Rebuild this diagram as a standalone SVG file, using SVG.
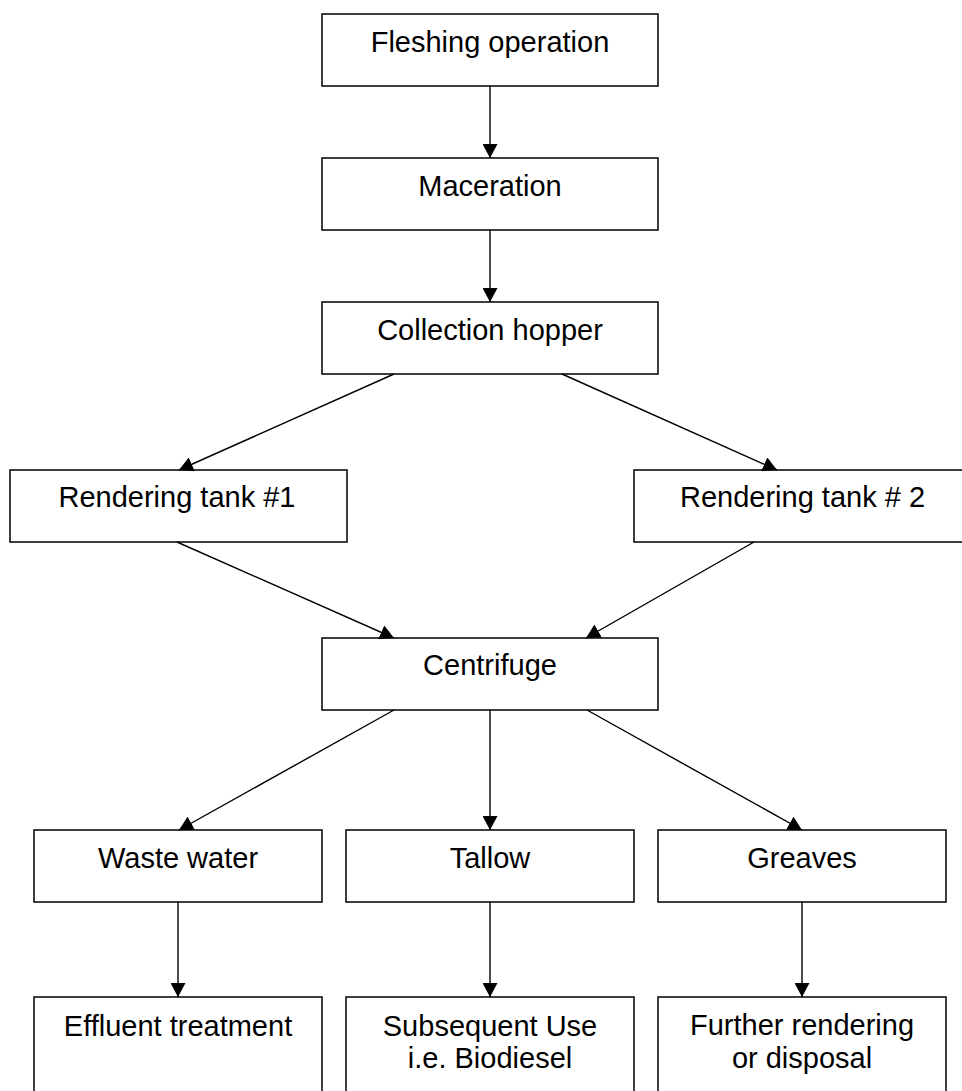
<svg xmlns="http://www.w3.org/2000/svg" width="962" height="1091" viewBox="0 0 962 1091">
<style>
.box{fill:#fff;stroke:#000;stroke-width:1.5}
.lbl{font-family:"Liberation Sans",Arial,sans-serif;font-size:29px;fill:#000;text-anchor:middle}
.con{fill:none;stroke:#000;stroke-width:1.4;marker-end:url(#ah)}
</style>
<defs>
<marker id="ah" markerUnits="userSpaceOnUse" markerWidth="14" markerHeight="15" refX="14" refY="7.5" orient="auto">
<path d="M0,0 L14,7.5 L0,15 z" fill="#000"/>
</marker>
</defs>
<rect width="962" height="1091" fill="#fff"/>
<g id="n-fleshing"><rect class="box" x="322" y="14" width="336" height="72"/><text class="lbl" x="490" y="52">Fleshing operation</text></g>
<g id="n-maceration"><rect class="box" x="322" y="158" width="336" height="72"/><text class="lbl" x="490" y="196">Maceration</text></g>
<g id="n-collection"><rect class="box" x="322" y="302" width="336" height="72"/><text class="lbl" x="490" y="340">Collection hopper</text></g>
<g id="n-rt1"><rect class="box" x="10" y="470" width="337" height="72"/><text class="lbl" x="177" y="507">Rendering tank #1</text></g>
<g id="n-rt2"><rect class="box" x="634" y="470" width="337" height="72"/><text class="lbl" x="802.5" y="507">Rendering tank # 2</text></g>
<g id="n-centrifuge"><rect class="box" x="322" y="638" width="336" height="72"/><text class="lbl" x="490" y="675">Centrifuge</text></g>
<g id="n-waste"><rect class="box" x="34" y="830" width="288" height="72"/><text class="lbl" x="178" y="868">Waste water</text></g>
<g id="n-tallow"><rect class="box" x="346" y="830" width="288" height="72"/><text class="lbl" x="490" y="868">Tallow</text></g>
<g id="n-greaves"><rect class="box" x="658" y="830" width="288" height="72"/><text class="lbl" x="802" y="868">Greaves</text></g>
<g id="n-effluent"><rect class="box" x="34" y="997" width="288" height="110"/><text class="lbl" x="178" y="1036">Effluent treatment</text></g>
<g id="n-subsequent"><rect class="box" x="346" y="997" width="288" height="110"/><text class="lbl" x="490" y="1036">Subsequent Use</text><text class="lbl" x="490" y="1068">i.e. Biodiesel</text></g>
<g id="n-further"><rect class="box" x="658" y="997" width="288" height="110"/><text class="lbl" x="802" y="1035">Further rendering</text><text class="lbl" x="802" y="1068">or disposal</text></g>
<g id="connectors">
<line class="con" x1="490" y1="86" x2="490" y2="158"/>
<line class="con" x1="490" y1="230" x2="490" y2="302"/>
<line class="con" x1="394" y1="374" x2="179" y2="470"/>
<line class="con" x1="562" y1="374" x2="777" y2="470"/>
<line class="con" x1="177" y1="542" x2="394" y2="638"/>
<line class="con" x1="754" y1="542" x2="586" y2="638"/>
<line class="con" x1="394" y1="710" x2="179" y2="830"/>
<line class="con" x1="490" y1="710" x2="490" y2="830"/>
<line class="con" x1="587" y1="710" x2="802" y2="830"/>
<line class="con" x1="178" y1="902" x2="178" y2="997"/>
<line class="con" x1="490" y1="902" x2="490" y2="997"/>
<line class="con" x1="802" y1="902" x2="802" y2="997"/>
</g>
</svg>
